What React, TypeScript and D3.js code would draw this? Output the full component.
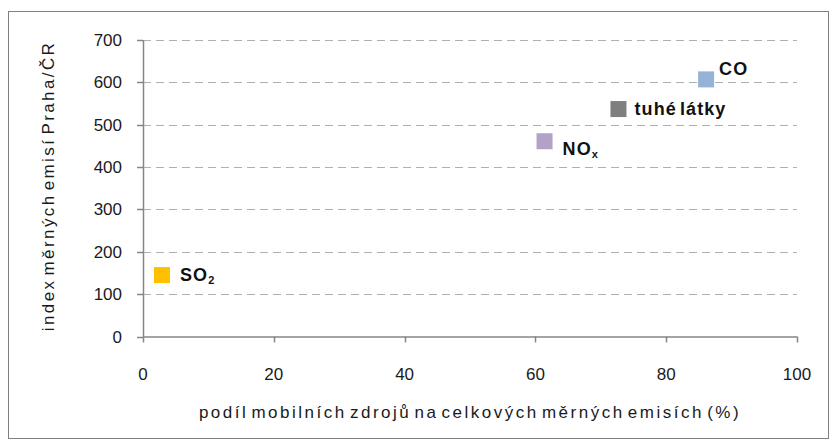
import React from "react";
import * as d3 from "d3";

const labels = ["SO", "NO", "tuhé látky", "CO"];
const subs = ["2", "x", "", ""];
const xValues = [2.9, 61.4, 72.7, 86.1];
const yValues = [145, 461, 537, 607];
const colors = ["#FFC000", "#B3A2C7", "#7F7F7F", "#95B3D7"];
const labelDx = [18, 18, 16, 13];
const labelDy = [6, 14, 6, -4];
const xTicks = [0, 20, 40, 60, 80, 100];
const yTicks = [0, 100, 200, 300, 400, 500, 600, 700];

export default function App() {
  const W = 832, H = 441;
  const x = d3.scaleLinear().domain([0, 100]).range([143, 797]);
  const y = d3.scaleLinear().domain([0, 700]).range([336.5, 40]);
  const font = "'Liberation Sans', Arial, sans-serif";
  return (
    <svg width={W} height={H} style={{ position: "absolute", left: 0, top: 0 }}>
      <rect x={0} y={0} width={W} height={H} fill="#fff" />
      <rect x={8.5} y={11.5} width={820} height={427} fill="none" stroke="#808080" strokeWidth={1} />
      {yTicks.filter(t => t > 0).map(t => (
        <line key={"g" + t} x1={x(0)} x2={x(100)} y1={Math.round(y(t)) + 0.5} y2={Math.round(y(t)) + 0.5}
          stroke="#B0B0B0" strokeWidth={1} strokeDasharray="8,5" />
      ))}
      <line x1={x(0) + 0.5} x2={x(0) + 0.5} y1={y(700)} y2={y(0)} stroke="#868686" strokeWidth={1.5} />
      <line x1={x(0)} x2={x(100)} y1={y(0) + 0.5} y2={y(0) + 0.5} stroke="#868686" strokeWidth={1.5} />
      {yTicks.map(t => (
        <g key={"y" + t}>
          <line x1={x(0) - 6} x2={x(0)} y1={Math.round(y(t)) + 0.5} y2={Math.round(y(t)) + 0.5} stroke="#868686" strokeWidth={1.5} />
          <text x={122} y={y(t) + 6} textAnchor="end" fontFamily={font} fontSize={17} fill="#1a1a1a">{t}</text>
        </g>
      ))}
      {xTicks.map(t => (
        <g key={"x" + t}>
          <line x1={Math.round(x(t)) + 0.5} x2={Math.round(x(t)) + 0.5} y1={y(0)} y2={y(0) + 6} stroke="#868686" strokeWidth={1.5} />
          <text x={x(t)} y={380} textAnchor="middle" fontFamily={font} fontSize={17} fill="#1a1a1a">{t}</text>
        </g>
      ))}
      <text x={470} y={418} textAnchor="middle" fontFamily={font} fontSize={17} letterSpacing={2.5} wordSpacing={-4} fill="#1a1a1a">podíl mobilních zdrojů na celkových měrných emisích (%)</text>
      <text transform={`translate(54,186) rotate(-90)`} textAnchor="middle" fontFamily={font} fontSize={17} letterSpacing={2.4} wordSpacing={-4} fill="#1a1a1a">index měrných emisí Praha/ČR</text>
      {labels.map((l, i) => (
        <g key={l}>
          <rect x={x(xValues[i]) - 8} y={y(yValues[i]) - 8} width={16} height={16} fill={colors[i]} />
          <text x={x(xValues[i]) + labelDx[i]} y={y(yValues[i]) + labelDy[i]} fontFamily={font} fontSize={18} fontWeight="bold" letterSpacing={1.1} wordSpacing={-3} fill="#111">
            {l}
            {subs[i] && <tspan fontSize={11} dy={3}>{subs[i]}</tspan>}
          </text>
        </g>
      ))}
    </svg>
  );
}
